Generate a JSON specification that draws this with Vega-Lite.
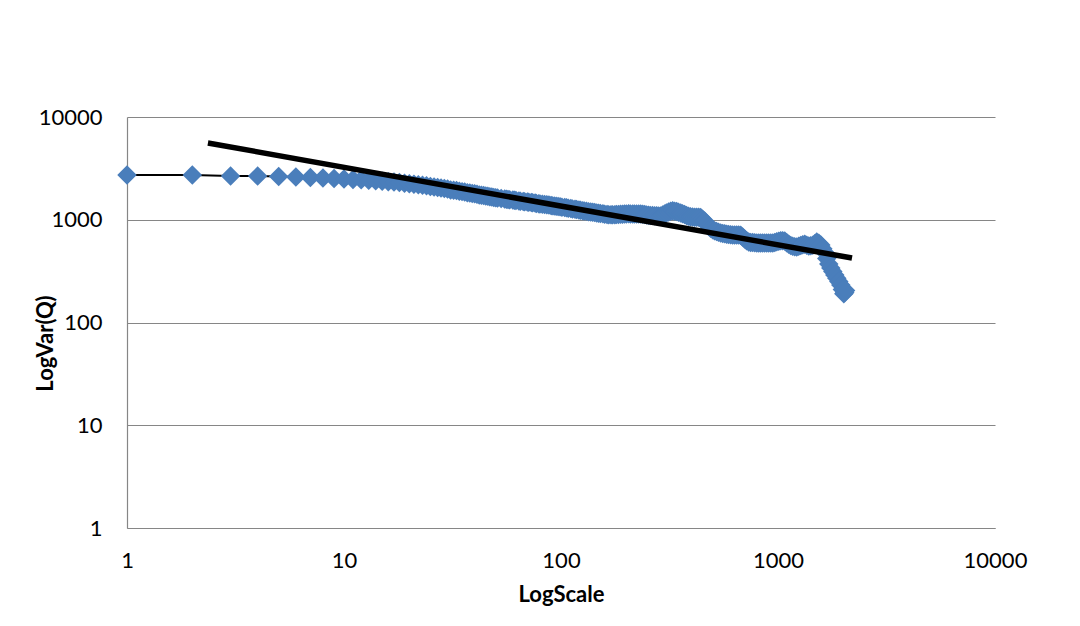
{
  "$schema": "https://vega.github.io/schema/vega-lite/v6.json",
  "width": 868,
  "height": 411,
  "autosize": {"type": "none"},
  "padding": {"left": 127, "top": 117, "right": 85, "bottom": 98},
  "background": "white",
  "config": {"view": {"stroke": null}, "font": "Lato"},
  "datasets": {
    "series": [
      {"scale": 1, "var": 2730}, {"scale": 2, "var": 2720}, {"scale": 3, "var": 2670}, {"scale": 4, "var": 2660},
      {"scale": 5, "var": 2640}, {"scale": 6, "var": 2607}, {"scale": 7, "var": 2578}, {"scale": 8, "var": 2549},
      {"scale": 9, "var": 2521}, {"scale": 10, "var": 2493}, {"scale": 11, "var": 2465}, {"scale": 12, "var": 2449},
      {"scale": 13, "var": 2427}, {"scale": 14, "var": 2394}, {"scale": 15, "var": 2367}, {"scale": 16, "var": 2345},
      {"scale": 17, "var": 2324}, {"scale": 18, "var": 2304}, {"scale": 19, "var": 2272}, {"scale": 20, "var": 2243},
      {"scale": 21, "var": 2213}, {"scale": 22, "var": 2189}, {"scale": 23, "var": 2164}, {"scale": 24, "var": 2145},
      {"scale": 25, "var": 2111}, {"scale": 26, "var": 2083}, {"scale": 27, "var": 2055}, {"scale": 28, "var": 2032},
      {"scale": 29, "var": 2010}, {"scale": 30, "var": 1988}, {"scale": 31, "var": 1952}, {"scale": 32, "var": 1937},
      {"scale": 33, "var": 1922}, {"scale": 34, "var": 1892}, {"scale": 35, "var": 1878}, {"scale": 36, "var": 1863},
      {"scale": 37, "var": 1834}, {"scale": 38, "var": 1818}, {"scale": 39, "var": 1801},
      {"scale": 40, "var": 1787}, {"scale": 41, "var": 1773}, {"scale": 42, "var": 1745}, {"scale": 43, "var": 1731},
      {"scale": 44, "var": 1718}, {"scale": 45, "var": 1705}, {"scale": 46, "var": 1692}, {"scale": 47, "var": 1678},
      {"scale": 48, "var": 1665}, {"scale": 49, "var": 1650}, {"scale": 50, "var": 1635}, {"scale": 51, "var": 1624},
      {"scale": 53, "var": 1610}, {"scale": 55, "var": 1592}, {"scale": 56, "var": 1581},
      {"scale": 57, "var": 1571}, {"scale": 58, "var": 1562}, {"scale": 60, "var": 1554}, {"scale": 61, "var": 1545},
      {"scale": 62, "var": 1536}, {"scale": 64, "var": 1525}, {"scale": 65, "var": 1515}, {"scale": 67, "var": 1506},
      {"scale": 68, "var": 1498}, {"scale": 70, "var": 1489}, {"scale": 71, "var": 1481}, {"scale": 73, "var": 1471},
      {"scale": 74, "var": 1462}, {"scale": 76, "var": 1452}, {"scale": 77, "var": 1443}, {"scale": 79, "var": 1434},
      {"scale": 80, "var": 1425}, {"scale": 82, "var": 1416}, {"scale": 84, "var": 1408}, {"scale": 86, "var": 1398},
      {"scale": 88, "var": 1389}, {"scale": 90, "var": 1379}, {"scale": 91, "var": 1370}, {"scale": 93, "var": 1361},
      {"scale": 95, "var": 1352}, {"scale": 97, "var": 1343}, {"scale": 99, "var": 1335}, {"scale": 101, "var": 1326},
      {"scale": 104, "var": 1316}, {"scale": 106, "var": 1305}, {"scale": 108, "var": 1295}, {"scale": 111, "var": 1285},
      {"scale": 113, "var": 1275}, {"scale": 116, "var": 1265}, {"scale": 118, "var": 1255}, {"scale": 121, "var": 1245},
      {"scale": 123, "var": 1235}, {"scale": 126, "var": 1226}, {"scale": 128, "var": 1217}, {"scale": 131, "var": 1207},
      {"scale": 134, "var": 1198}, {"scale": 137, "var": 1190}, {"scale": 140, "var": 1182}, {"scale": 143, "var": 1174},
      {"scale": 146, "var": 1166}, {"scale": 149, "var": 1158}, {"scale": 152, "var": 1150}, {"scale": 156, "var": 1142},
      {"scale": 159, "var": 1134}, {"scale": 163, "var": 1127}, {"scale": 166, "var": 1120}, {"scale": 170, "var": 1118},
      {"scale": 173, "var": 1117}, {"scale": 177, "var": 1119}, {"scale": 180, "var": 1122}, {"scale": 184, "var": 1126},
      {"scale": 188, "var": 1130}, {"scale": 192, "var": 1133}, {"scale": 196, "var": 1136}, {"scale": 200, "var": 1140},
      {"scale": 205, "var": 1142}, {"scale": 209, "var": 1138}, {"scale": 214, "var": 1135}, {"scale": 218, "var": 1137},
      {"scale": 223, "var": 1140}, {"scale": 228, "var": 1139}, {"scale": 233, "var": 1138}, {"scale": 238, "var": 1130},
      {"scale": 243, "var": 1122}, {"scale": 248, "var": 1114}, {"scale": 253, "var": 1107}, {"scale": 258, "var": 1102},
      {"scale": 264, "var": 1098}, {"scale": 270, "var": 1095}, {"scale": 276, "var": 1093}, {"scale": 282, "var": 1090},
      {"scale": 288, "var": 1088}, {"scale": 294, "var": 1110}, {"scale": 300, "var": 1138}, {"scale": 306, "var": 1165},
      {"scale": 313, "var": 1190}, {"scale": 320, "var": 1208}, {"scale": 327, "var": 1222}, {"scale": 334, "var": 1212},
      {"scale": 341, "var": 1200}, {"scale": 348, "var": 1182}, {"scale": 356, "var": 1163}, {"scale": 363, "var": 1142},
      {"scale": 371, "var": 1122}, {"scale": 379, "var": 1102}, {"scale": 387, "var": 1083}, {"scale": 395, "var": 1072},
      {"scale": 404, "var": 1062}, {"scale": 413, "var": 1059}, {"scale": 422, "var": 1057}, {"scale": 431, "var": 1055},
      {"scale": 440, "var": 1052}, {"scale": 449, "var": 1010}, {"scale": 459, "var": 973}, {"scale": 469, "var": 915},
      {"scale": 479, "var": 862}, {"scale": 489, "var": 828}, {"scale": 500, "var": 798}, {"scale": 510, "var": 783},
      {"scale": 521, "var": 770}, {"scale": 532, "var": 756}, {"scale": 544, "var": 743}, {"scale": 556, "var": 736},
      {"scale": 568, "var": 730}, {"scale": 580, "var": 723}, {"scale": 592, "var": 717}, {"scale": 605, "var": 714},
      {"scale": 618, "var": 711}, {"scale": 631, "var": 711}, {"scale": 645, "var": 711}, {"scale": 659, "var": 711},
      {"scale": 673, "var": 705}, {"scale": 687, "var": 680}, {"scale": 702, "var": 650}, {"scale": 717, "var": 625},
      {"scale": 733, "var": 606}, {"scale": 748, "var": 602}, {"scale": 764, "var": 600}, {"scale": 781, "var": 597},
      {"scale": 798, "var": 595}, {"scale": 815, "var": 594}, {"scale": 832, "var": 594}, {"scale": 850, "var": 594},
      {"scale": 868, "var": 594}, {"scale": 887, "var": 594}, {"scale": 906, "var": 594}, {"scale": 926, "var": 594},
      {"scale": 946, "var": 594}, {"scale": 966, "var": 600}, {"scale": 987, "var": 610}, {"scale": 1008, "var": 618},
      {"scale": 1029, "var": 624}, {"scale": 1051, "var": 626}, {"scale": 1074, "var": 622}, {"scale": 1097, "var": 598},
      {"scale": 1121, "var": 577}, {"scale": 1145, "var": 563}, {"scale": 1169, "var": 552}, {"scale": 1194, "var": 547},
      {"scale": 1220, "var": 544}, {"scale": 1246, "var": 553}, {"scale": 1273, "var": 562}, {"scale": 1300, "var": 570},
      {"scale": 1328, "var": 576}, {"scale": 1357, "var": 564}, {"scale": 1386, "var": 554}, {"scale": 1416, "var": 558},
      {"scale": 1446, "var": 564}, {"scale": 1477, "var": 585}, {"scale": 1509, "var": 609}, {"scale": 1542, "var": 590},
      {"scale": 1575, "var": 568}, {"scale": 1609, "var": 522}, {"scale": 1643, "var": 482}, {"scale": 1678, "var": 420},
      {"scale": 1714, "var": 372}, {"scale": 1751, "var": 340}, {"scale": 1789, "var": 314}, {"scale": 1827, "var": 290},
      {"scale": 1866, "var": 269}, {"scale": 1906, "var": 250}, {"scale": 1947, "var": 232}, {"scale": 1980, "var": 210},
      {"scale": 2010, "var": 190}, {"scale": 2030, "var": 196}, {"scale": 2048, "var": 205}
    ],
    "trend": [
      {"scale": 2.36, "var": 5585},
      {"scale": 2193, "var": 424}
    ]
  },
  "encoding": {
    "x": {
      "field": "scale",
      "type": "quantitative",
      "scale": {"type": "log", "domain": [1, 10000], "nice": false},
      "axis": {
        "title": "LogScale",
        "values": [1, 10, 100, 1000, 10000],
        "format": "d",
        "grid": false,
        "ticks": false,
        "domainColor": "#868686",
        "domainWidth": 1.2,
        "labelFont": "Lato",
        "labelFontSize": 22,
        "labelColor": "#000000",
        "labelPadding": 22,
        "labelOverlap": false,
        "labelFlush": false,
        "labelBound": false,
        "titleFont": "Lato",
        "titleFontSize": 22,
        "titleFontWeight": "bold",
        "titleColor": "#000000",
        "titleBaseline": "top",
        "titleY": 56
      }
    },
    "y": {
      "field": "var",
      "type": "quantitative",
      "scale": {"type": "log", "domain": [1, 10000], "nice": false},
      "axis": {
        "title": "LogVar(Q)",
        "values": [1, 10, 100, 1000, 10000],
        "format": "d",
        "grid": true,
        "gridColor": "#868686",
        "gridWidth": 1.2,
        "ticks": false,
        "domainColor": "#868686",
        "domainWidth": 1.2,
        "labelFont": "Lato",
        "labelFontSize": 22,
        "labelColor": "#000000",
        "labelPadding": 25,
        "labelOverlap": false,
        "labelBound": false,
        "titleFont": "Lato",
        "titleFontSize": 22,
        "titleFontWeight": "bold",
        "titleColor": "#000000",
        "titleAngle": -90,
        "titleAlign": "center",
        "titleBaseline": "alphabetic",
        "titleX": -75,
        "titleY": 226
      }
    }
  },
  "layer": [
    {
      "data": {"name": "series"},
      "mark": {"type": "line", "color": "#000000", "strokeWidth": 2},
      "encoding": {}
    },
    {
      "data": {"name": "series"},
      "mark": {"type": "point", "shape": "diamond", "filled": true, "color": "#4A7EBB", "size": 380, "opacity": 1, "strokeWidth": 0},
      "encoding": {}
    },
    {
      "data": {"name": "trend"},
      "mark": {"type": "line", "color": "#000000", "strokeWidth": 5.5, "strokeCap": "butt"},
      "encoding": {}
    }
  ]
}
